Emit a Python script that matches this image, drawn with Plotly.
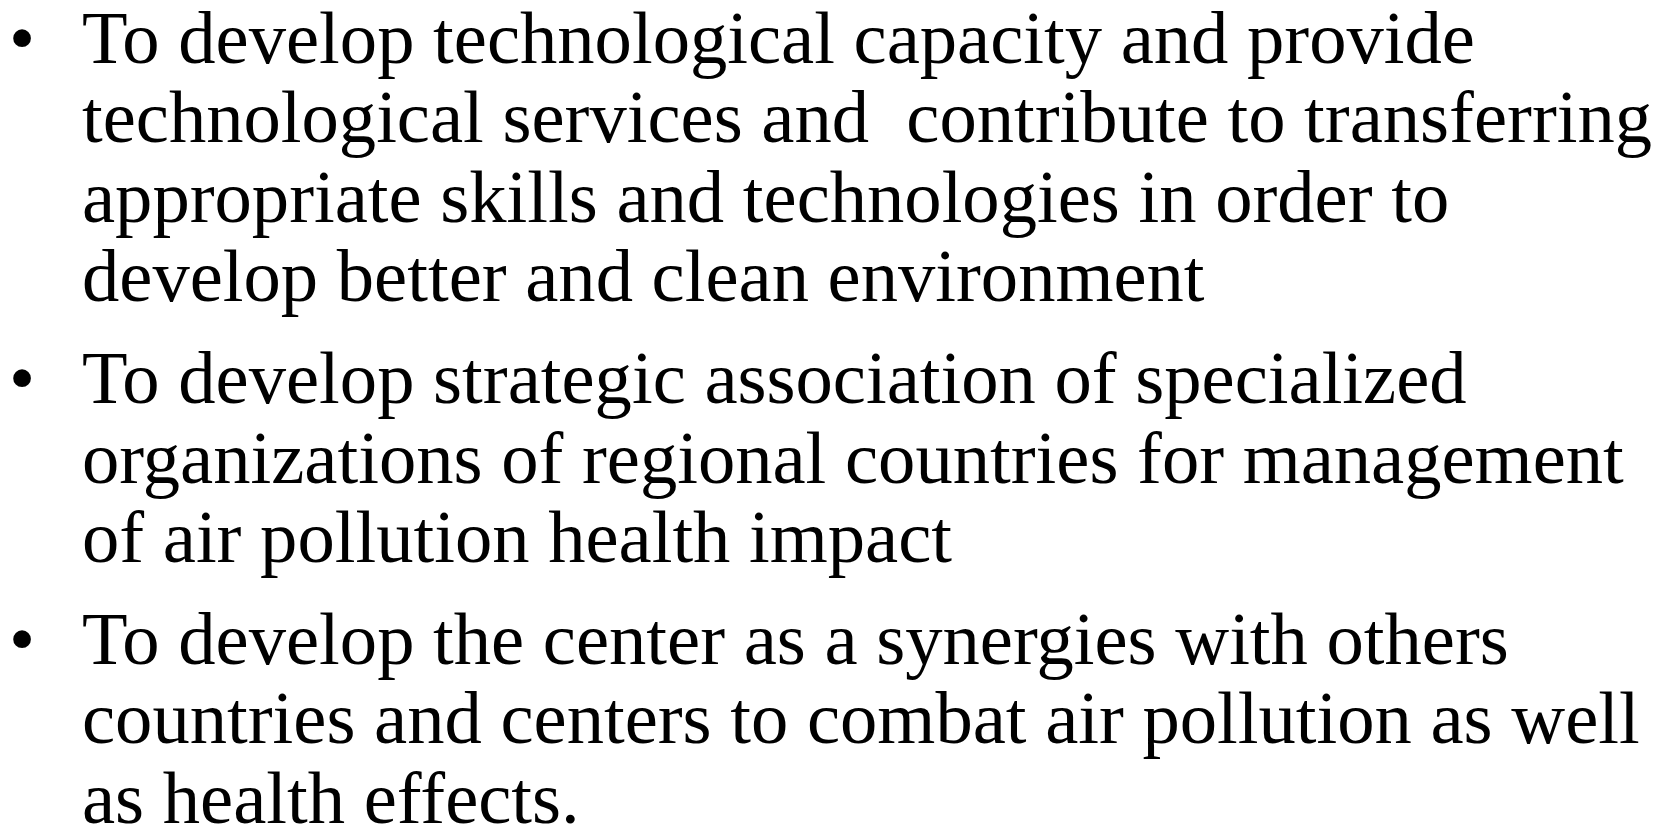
import plotly.graph_objects as go

# ---- content (text lines of each bullet paragraph) ----
bullet_1 = [
    "To develop technological capacity and provide",
    "technological services and  contribute to transferring",
    "appropriate skills and technologies in order to",
    "develop better and clean environment",
]
bullet_2 = [
    "To develop strategic association of specialized",
    "organizations of regional countries for management",
    "of air pollution health impact",
]
bullet_3 = [
    "To develop the center as a synergies with others",
    "countries and centers to combat air pollution as well",
    "as health effects.",
]
paragraphs = [bullet_1, bullet_2, bullet_3]
bullet_char = "\u2022"

# ---- layout constants (pixels) ----
W, H = 1667, 826
FS = 74.6
LINE = 79.6
PARA_GAP = 22
FIRST_BASELINE = 63
TEXT_X = 80
BULLET_X = 7
ASC = 0.891
FONT = dict(family="Liberation Serif, Times New Roman, serif", size=FS, color="#000000")


def px(x):
    return x / W


def py(y):
    return 1 - y / H


annotations = []
k = 0
for p, lines in enumerate(paragraphs):
    for j, line in enumerate(lines):
        baseline = FIRST_BASELINE + LINE * k + PARA_GAP * p
        top = baseline - ASC * FS - 2
        if j == 0:
            annotations.append(dict(
                x=px(BULLET_X), y=py(top), xref="paper", yref="paper", text=bullet_char,
                showarrow=False, xanchor="left", yanchor="top", font=FONT,
            ))
        annotations.append(dict(
            x=px(TEXT_X), y=py(top), xref="paper", yref="paper",
            text=line.replace("  ", " \u00a0"),
            showarrow=False, xanchor="left", yanchor="top", font=FONT,
        ))
        k += 1

fig = go.Figure()
fig.update_layout(
    width=W, height=H,
    margin=dict(l=0, r=0, t=0, b=0),
    paper_bgcolor="white", plot_bgcolor="white",
    xaxis=dict(range=[0, 1], visible=False, fixedrange=True),
    yaxis=dict(range=[0, 1], visible=False, fixedrange=True),
    annotations=annotations,
    showlegend=False,
)
fig.write_html(
    "out.html",
    config={"displayModeBar": False},
    post_script="document.body.style.margin='0';document.body.style.overflow='hidden';",
)
